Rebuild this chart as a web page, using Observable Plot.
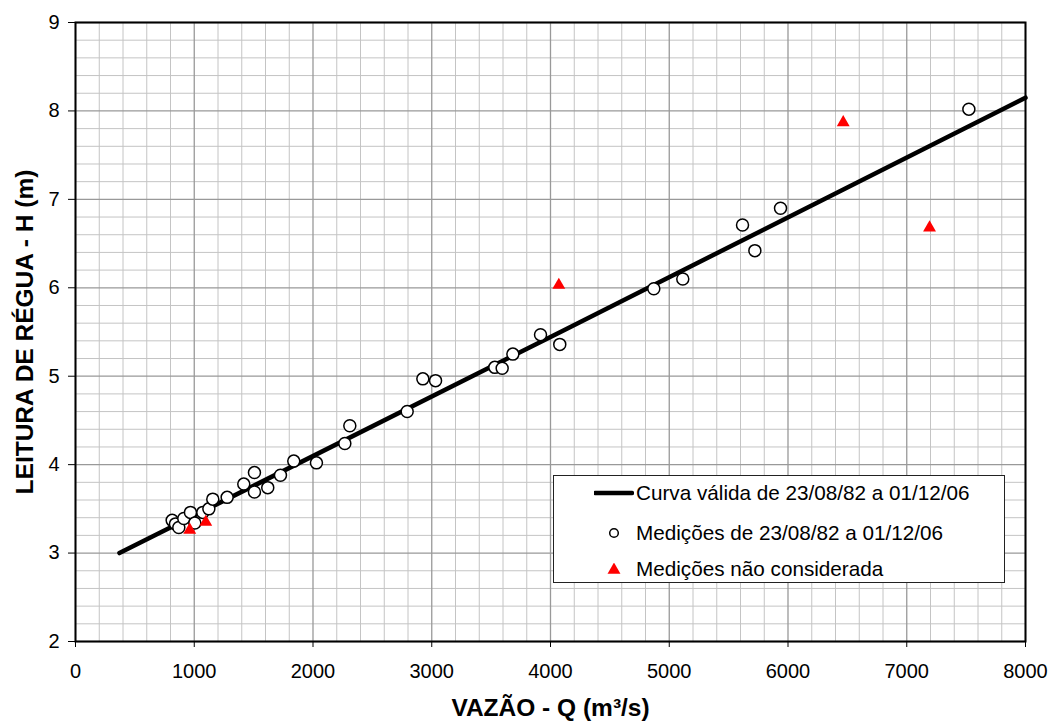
<!DOCTYPE html>
<html><head><meta charset="utf-8">
<script src="https://cdn.jsdelivr.net/npm/d3@7"></script>
<script src="https://cdn.jsdelivr.net/npm/@observablehq/plot@0.6"></script>
<style>
body{margin:0;background:#fff;font-family:"Liberation Sans",Arial,sans-serif;}
#wrap{position:relative;width:1052px;height:722px;}
#legend{position:absolute;left:553px;top:475px;width:452px;height:108px;background:#fff;border:1px solid #222;box-sizing:border-box;font-size:20.7px;color:#000;}
.row{position:absolute;left:0;height:30px;display:flex;align-items:center;white-space:nowrap;}
.row svg{flex:none;}
</style></head><body><div id="wrap"></div>
<script>
// Rating curve (H as function of Q)
const curveQ = [370, 4084, 8000];
const curveH = [3.0, 5.50, 8.15];
// Measurements considered
const measQ = [814, 842, 870, 912, 968, 1005, 1072, 1123, 1156, 1277, 1417, 1507, 1507, 1619, 1726, 1838, 2029, 2268, 2310, 2793, 2925, 3032, 3531, 3593, 3683, 3916, 4078, 4870, 5114, 5617, 5721, 5937, 7523];
const measH = [3.37, 3.33, 3.29, 3.39, 3.46, 3.34, 3.46, 3.50, 3.61, 3.63, 3.78, 3.91, 3.69, 3.74, 3.88, 4.04, 4.02, 4.24, 4.44, 4.60, 4.97, 4.95, 5.10, 5.09, 5.25, 5.47, 5.36, 5.99, 6.10, 6.71, 6.42, 6.90, 8.02];
// Measurements not considered
const rejQ = [962, 1097, 4070, 6465, 7192];
const rejH = [3.26, 3.35, 6.03, 7.87, 6.68];
// Axes
const xTicks = [0, 1000, 2000, 3000, 4000, 5000, 6000, 7000, 8000];
const yTicks = [2, 3, 4, 5, 6, 7, 8, 9];
const xTitle = "VAZÃO - Q (m³/s)";
const yTitle = "LEITURA DE RÉGUA - H (m)";
const legendLabels = ["Curva válida de 23/08/82 a 01/12/06", "Medições de 23/08/82 a 01/12/06", "Medições não considerada"];

const curve = curveQ.map((q, i) => ({q, h: curveH[i]}));
const meas = measQ.map((q, i) => ({q, h: measH[i]}));
const rej = rejQ.map((q, i) => ({q, h: rejH[i]}));
const xMinor = d3.range(0, 8001, 200).filter(v => v % 1000 !== 0);
const yMinor = d3.range(20, 91, 2).map(v => v / 10).filter(v => !Number.isInteger(v));

const font = '"Liberation Sans", Arial, sans-serif';
const chart = Plot.plot({
  width: 1052, height: 722,
  marginLeft: 75, marginRight: 27, marginTop: 22, marginBottom: 81,
  style: {fontFamily: font, fontSize: "20px", color: "#000", background: "#fff"},
  x: {domain: [0, 8000]},
  y: {domain: [2, 9]},
  marks: [
    Plot.ruleX(xMinor, {stroke: "#c4c4c4", strokeWidth: 1}),
    Plot.ruleY(yMinor, {stroke: "#c4c4c4", strokeWidth: 1}),
    Plot.ruleX(xTicks, {stroke: "#999", strokeWidth: 1.3}),
    Plot.ruleY(yTicks, {stroke: "#999", strokeWidth: 1.3}),
    Plot.axisX(xTicks, {tickSize: 6, tickPadding: 16, label: null, fontSize: 20, tickFormat: d => String(d)}),
    Plot.axisY(yTicks, {tickSize: 7, tickPadding: 9, label: null, fontSize: 20, tickFormat: d => String(d)}),
    Plot.line(curve, {x: "q", y: "h", stroke: "#000", strokeWidth: 4.5, curve: "natural"}),
    Plot.dot(meas, {x: "q", y: "h", r: 6, fill: "#fff", stroke: "#000", strokeWidth: 1.5}),
    Plot.dot(rej, {x: "q", y: "h", r: 4.8, symbol: "triangle", fill: "#ff0000", stroke: "none"}),
    Plot.frame({stroke: "#000", strokeWidth: 2}),
    Plot.text([xTitle], {text: d => d, frameAnchor: "bottom", lineAnchor: "middle", textAnchor: "middle", dy: 67, fontSize: 24.5, fontWeight: "bold"}),
    Plot.text([yTitle], {text: d => d, frameAnchor: "left", lineAnchor: "middle", textAnchor: "middle", rotate: -90, dx: -50, fontSize: 24.5, fontWeight: "bold"})
  ]
});
const wrap = document.getElementById("wrap");
wrap.appendChild(chart);

const legend = document.createElement("div");
legend.id = "legend";
const icons = [
  '<svg width="40" height="10"><line x1="1" y1="5" x2="38" y2="5" stroke="#000" stroke-width="4.5" stroke-linecap="round"/></svg>',
  '<svg width="40" height="12"><circle cx="20" cy="6" r="4.3" fill="#fff" stroke="#000" stroke-width="1.5"/></svg>',
  '<svg width="40" height="12"><path d="' + d3.symbol(d3.symbolTriangle, Math.PI * 4.8 * 4.8)() + '" transform="translate(20,7)" fill="#ff0000"/></svg>'
];
const rowTops = [2, 42, 78];
legendLabels.forEach((lab, i) => {
  const row = document.createElement("div");
  row.className = "row";
  row.style.top = rowTops[i] + "px";
  row.style.left = "40px";
  row.innerHTML = icons[i] + '<span style="margin-left:2px">' + lab + '</span>';
  legend.appendChild(row);
});
wrap.appendChild(legend);
</script></body></html>
